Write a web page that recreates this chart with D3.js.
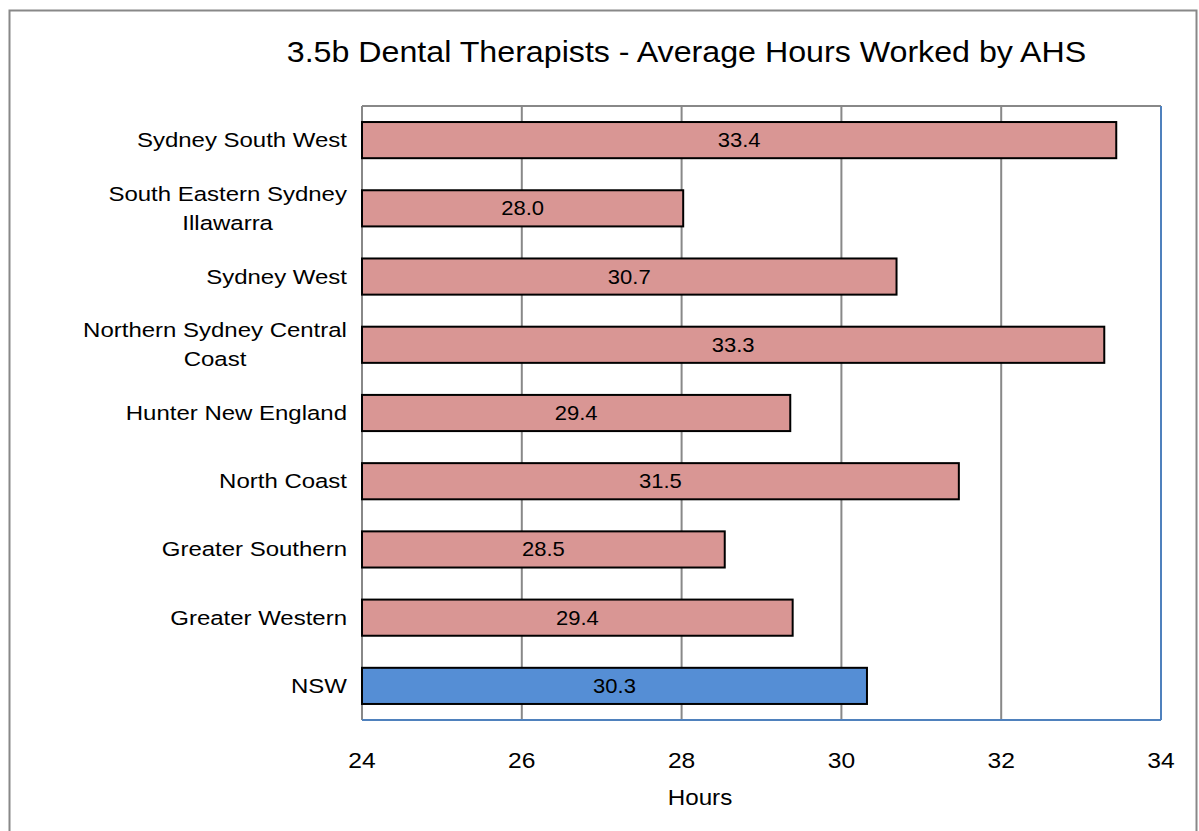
<!DOCTYPE html>
<html><head><meta charset="utf-8">
<script src="https://cdn.jsdelivr.net/npm/d3@7"></script>
<style>body{margin:0;background:#fff;} svg{display:block;font-family:"Liberation Sans",Arial,sans-serif;}</style>
</head><body>
<svg id="c" width="1199" height="831"></svg>
<script>
const categories = ["Sydney South West","South Eastern Sydney|Illawarra","Sydney West","Northern Sydney Central|Coast","Hunter New England","North Coast","Greater Southern","Greater Western","NSW"];
const hours = [33.44, 28.02, 30.69, 33.29, 29.36, 31.47, 28.54, 29.39, 30.32];
const xTicks = [24, 26, 28, 30, 32, 34];
const title = "3.5b Dental Therapists - Average Hours Worked by AHS";
const xTitle = "Hours";

const svg = d3.select("#c");
const m = {l:362, r:1161, t:106, b:720};
svg.append("rect").attr("x",9.5).attr("y",10.5).attr("width",1187).attr("height",840).attr("fill","none").attr("stroke","#888").attr("stroke-width",2);

const x = d3.scaleLinear().domain([24,34]).range([m.l,m.r]);
const y = d3.scaleBand().domain(categories).range([m.t,m.b]).paddingInner(0.47).paddingOuter(0.235);

function stext(g, tx, ty, size, sx, anchor, str){
  return g.append("text").attr("transform",`translate(${tx},${ty}) scale(${sx},1)`)
    .attr("font-size",size).attr("text-anchor",anchor).attr("fill","#000").text(str);
}

// gridlines
svg.append("g").selectAll("line").data(xTicks.slice(1,-1)).join("line")
  .attr("x1",d=>x(d)).attr("x2",d=>x(d)).attr("y1",m.t).attr("y2",m.b)
  .attr("stroke","#888").attr("stroke-width",2);
// plot borders
svg.append("line").attr("x1",m.l).attr("x2",m.r).attr("y1",m.t).attr("y2",m.t).attr("stroke","#888").attr("stroke-width",2);
svg.append("line").attr("x1",m.l).attr("x2",m.l).attr("y1",m.t).attr("y2",m.b).attr("stroke","#888").attr("stroke-width",2);
svg.append("line").attr("x1",m.r).attr("x2",m.r).attr("y1",m.t).attr("y2",m.b).attr("stroke","#4f81bd").attr("stroke-width",2);
svg.append("line").attr("x1",m.l).attr("x2",m.r).attr("y1",m.b).attr("y2",m.b).attr("stroke","#4f81bd").attr("stroke-width",2);

// bars
svg.append("g").selectAll("rect").data(categories).join("rect")
  .attr("x",x(24)).attr("y",d=>y(d))
  .attr("width",(d,i)=>x(hours[i])-x(24)).attr("height",y.bandwidth())
  .attr("fill",d=>d==="NSW"?"#558ed5":"#d99694")
  .attr("stroke","#000").attr("stroke-width",2);

// value labels
const vg = svg.append("g");
categories.forEach((c,i)=>{
  stext(vg,(x(24)+x(hours[i]))/2, y(c)+y.bandwidth()/2+7, 20, 1.1, "middle", d3.format(".1f")(hours[i]));
});

// category labels
const cg = svg.append("g");
const CS = 20.5, CX = 1.17;
categories.forEach(c=>{
  const lines = c.split("|");
  const cy = y(c)+y.bandwidth()/2;
  if(lines.length===1){
    stext(cg,347,cy+7,CS,CX,"end",lines[0]);
  } else {
    const ws = lines.map(l=>{const e=cg.append("text").attr("font-size",CS).text(l);const w=e.node().getComputedTextLength();e.remove();return w*CX;});
    const cx = 347 - d3.max(ws)/2;
    lines.forEach((l,k)=>stext(cg,cx,cy-7.5+k*29,CS,CX,"middle",l));
  }
});

// x axis labels
const ag = svg.append("g");
xTicks.forEach(d=>stext(ag,x(d),768,22,1.12,"middle",d));
stext(svg,700,805,22,1.1,"middle",xTitle);
stext(svg,686.5,62,29,1.11,"middle",title);
</script>
</body></html>
